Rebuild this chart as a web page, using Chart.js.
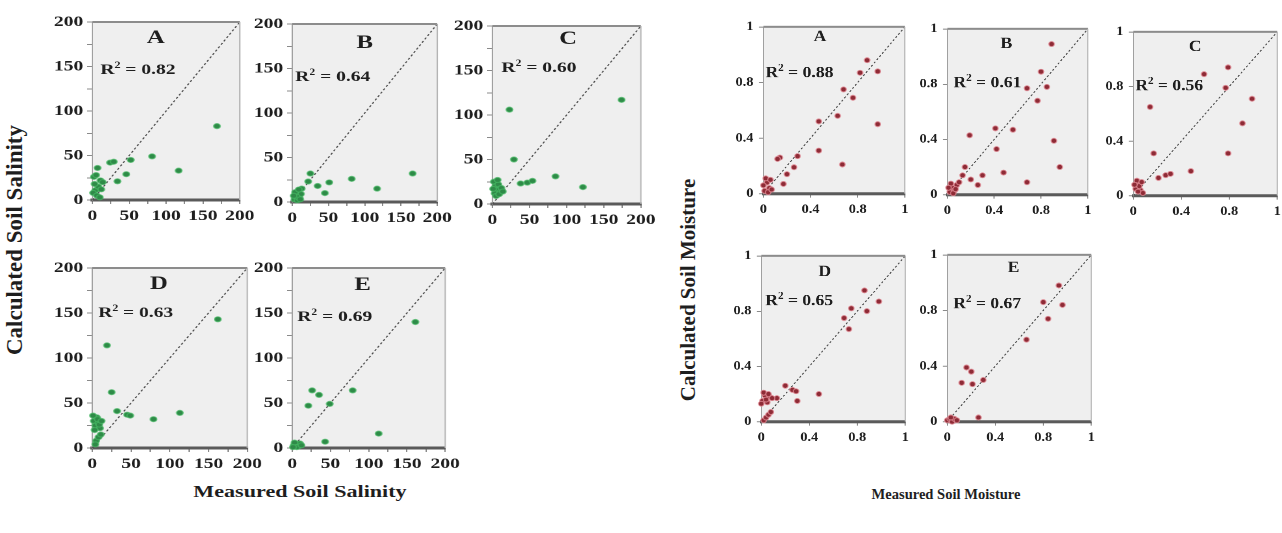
<!DOCTYPE html>
<html>
<head>
<meta charset="utf-8">
<script src="https://cdn.jsdelivr.net/npm/chart.js@4.4.1/dist/chart.umd.min.js"></script>
<style>
  body { margin: 0; background: #fff; width: 1282px; height: 533px; position: relative; overflow: hidden; font-family: 'Liberation Serif', 'Times New Roman', serif; }
  .wrap { position: absolute; transform-origin: 0 0; }
  .title { position: absolute; font-weight: bold; color: #1e1e1e; white-space: nowrap; }
</style>
</head>
<body>
<div class="title" style="left:15px; top:240px; font-size:23px; transform: translate(-50%,-50%) rotate(-90deg);">Calculated Soil Salinity</div>
<div class="title" style="left:300px; top:492px; font-size:17px; transform: translate(-50%,-50%) scaleX(1.3);">Measured Soil Salinity</div>
<div class="title" style="left:688px; top:290px; font-size:21px; transform: translate(-50%,-50%) rotate(-90deg);">Calculated Soil Moisture</div>
<div class="title" style="left:946px; top:494px; font-size:15px; transform: translate(-50%,-50%) scaleX(0.97);">Measured Soil Moisture</div>

<script>
// panel letters and fit statistics
var panelLetters = ['A', 'B', 'C', 'D', 'E'];
var salinityR2 = [0.82, 0.64, 0.60, 0.63, 0.69];
var moistureR2 = [0.88, 0.61, 0.56, 0.65, 0.67];

// axis ticks
var salinityTicks = [0, 50, 100, 150, 200];
var moistureTicks = [0, 0.4, 0.8, 1.2];
var moistureTickLabels = ['0', '0.4', '0.8', '1'];

// soil salinity: measured vs calculated
var salA_meas = [169, 81, 117, 52, 46, 34, 24, 29, 7, 11, 2, 4, 1, 8, 3, 6, 10, 12, 5, 14];
var salA_calc = [83, 49, 33, 45, 29, 21, 42, 43, 36, 22, 26, 11, 8, 15, 18, 5, 3, 12, 28, 20];
var salB_meas = [166, 117, 82, 51, 45, 35, 25, 22, 13, 8, 5, 10, 3, 7, 12, 4, 9, 6, 2, 11];
var salB_calc = [32, 15, 26, 22, 10, 18, 32, 23, 15, 12, 8, 5, 3, 2, 9, 11, 14, 6, 7, 3];
var salC_meas = [174, 23, 29, 85, 122, 38, 47, 54, 2, 4, 6, 8, 10, 3, 12, 5, 7, 1, 9, 14];
var salC_calc = [117, 106, 50, 31, 19, 23, 24, 26, 25, 20, 16, 22, 13, 12, 18, 9, 27, 17, 11, 14];
var salD_meas = [162, 19, 25, 32, 45, 49, 79, 113, 2, 4, 6, 8, 10, 3, 1, 7, 9, 12, 5, 8, 11, 4];
var salD_calc = [143, 114, 62, 41, 37, 36, 32, 39, 30, 25, 34, 28, 22, 20, 36, 32, 26, 30, 8, 12, 15, 4];
var salE_meas = [161, 79, 26, 35, 21, 49, 113, 43, 2, 5, 8, 10, 3, 6, 12, 1];
var salE_calc = [140, 64, 64, 59, 47, 49, 16, 7, 3, 4, 2, 5, 6, 1, 3, 1];

// soil moisture: measured vs calculated
var moiA_meas = [0.88, 0.97, 0.82, 0.68, 0.76, 0.63, 0.47, 0.97, 0.47, 0.67, 0.29, 0.14, 0.12, 0.26, 0.20, 0.17, 0.01, 0.03, 0.05, 0.02, 0.06, 0.04, 0.00, 0.07];
var moiA_calc = [0.96, 0.88, 0.87, 0.75, 0.69, 0.56, 0.52, 0.50, 0.31, 0.21, 0.27, 0.26, 0.25, 0.19, 0.14, 0.07, 0.02, 0.08, 0.04, 0.11, 0.10, 0.01, 0.06, 0.03];
var moiB_meas = [0.89, 0.80, 0.68, 0.85, 0.77, 0.41, 0.56, 0.19, 0.91, 0.42, 0.96, 0.48, 0.68, 0.30, 0.26, 0.20, 0.15, 0.13, 0.02, 0.04, 0.06, 0.08, 0.10, 0.03, 0.05, 0.01, 0.07];
var moiB_calc = [1.09, 0.89, 0.77, 0.78, 0.68, 0.48, 0.47, 0.43, 0.39, 0.33, 0.20, 0.16, 0.09, 0.14, 0.07, 0.11, 0.20, 0.14, 0.02, 0.05, 0.03, 0.07, 0.09, 0.08, 0.01, 0.05, 0.04];
var moiC_meas = [0.79, 0.59, 0.77, 0.99, 0.14, 0.91, 0.79, 0.17, 0.48, 0.21, 0.27, 0.31, 0.02, 0.04, 0.06, 0.03, 0.05, 0.08, 0.01, 0.07, 0.04];
var moiC_calc = [0.94, 0.89, 0.79, 0.71, 0.65, 0.53, 0.31, 0.31, 0.18, 0.13, 0.15, 0.16, 0.05, 0.09, 0.04, 0.11, 0.07, 0.02, 0.08, 0.10, 0.03];
var moiD_meas = [0.86, 0.98, 0.88, 0.75, 0.69, 0.73, 0.48, 0.20, 0.26, 0.29, 0.30, 0.13, 0.01, 0.03, 0.05, 0.07, 0.02, 0.04, 0.06, 0.09, 0.00, 0.02, 0.04, 0.06, 0.08];
var moiD_calc = [0.95, 0.87, 0.80, 0.82, 0.75, 0.67, 0.20, 0.26, 0.23, 0.22, 0.15, 0.17, 0.15, 0.19, 0.14, 0.18, 0.21, 0.16, 0.20, 0.17, 0.13, 0.01, 0.03, 0.05, 0.07];
var moiE_meas = [0.93, 0.80, 0.96, 0.84, 0.66, 0.16, 0.20, 0.12, 0.21, 0.30, 0.26, 0.00, 0.02, 0.04, 0.06, 0.08, 0.03];
var moiE_calc = [0.98, 0.86, 0.84, 0.74, 0.59, 0.39, 0.36, 0.28, 0.27, 0.30, 0.03, 0.01, 0.02, 0.00, 0.02, 0.01, 0.03];

var salMeas = [salA_meas, salB_meas, salC_meas, salD_meas, salE_meas];
var salCalc = [salA_calc, salB_calc, salC_calc, salD_calc, salE_calc];
var moiMeas = [moiA_meas, moiB_meas, moiC_meas, moiD_meas, moiE_meas];
var moiCalc = [moiA_calc, moiB_calc, moiC_calc, moiD_calc, moiE_calc];

// where each plot area sits on the page (l, t, w, h) plus label offsets
var salLayout = [
  { l: 92,  t: 22,  w: 147, h: 178, lx: 0.43, ly: 16, rx: 8, ry: 48 },
  { l: 292, t: 24,  w: 145, h: 178, lx: 0.50, ly: 19, rx: 3, ry: 53 },
  { l: 492, t: 26,  w: 148, h: 178, lx: 0.51, ly: 13, rx: 9, ry: 42 },
  { l: 92,  t: 268, w: 155, h: 180, lx: 0.43, ly: 16, rx: 6, ry: 45 },
  { l: 292, t: 268, w: 153, h: 180, lx: 0.46, ly: 17, rx: 5, ry: 49 }
];
var moiLayout = [
  { l: 763,  t: 27,  w: 141, h: 166, lx: 0.40, ly: 10, rx: 2, ry: 46 },
  { l: 947,  t: 29,  w: 140, h: 165, lx: 0.42, ly: 15, rx: 6, ry: 54 },
  { l: 1133, t: 32,  w: 144, h: 163, lx: 0.43, ly: 15, rx: 2, ry: 54 },
  { l: 761,  t: 256, w: 144, h: 165, lx: 0.44, ly: 16, rx: 4, ry: 45 },
  { l: 947,  t: 255, w: 144, h: 166, lx: 0.46, ly: 13, rx: 6, ry: 49 }
];

var SERIF = "'Liberation Serif', 'Times New Roman', serif";

// grey plot background, top/right frame, panel letter and R² text
var plotFrame = {
  id: 'plotFrame',
  beforeDraw: function(chart) {
    var a = chart.chartArea, ctx = chart.ctx;
    ctx.save();
    ctx.fillStyle = '#efefef';
    ctx.fillRect(a.left, a.top, a.right - a.left, a.bottom - a.top);
    ctx.restore();
  },
  afterDraw: function(chart) {
    var a = chart.chartArea, ctx = chart.ctx;
    var o = chart.options.plugins.plotFrame;
    ctx.save();
    ctx.strokeStyle = '#8c8c8c';
    ctx.lineWidth = 2;
    ctx.beginPath();
    ctx.moveTo(a.left, a.top);
    ctx.lineTo(a.right, a.top);
    ctx.stroke();
    ctx.strokeStyle = '#b4b4b4';
    ctx.lineWidth = 1;
    ctx.beginPath();
    ctx.moveTo(a.right, a.top);
    ctx.lineTo(a.right, a.bottom);
    ctx.stroke();

    ctx.fillStyle = '#1e1e1e';
    ctx.textBaseline = 'middle';
    ctx.textAlign = 'center';
    ctx.font = 'bold ' + o.letterSize + 'px ' + SERIF;
    ctx.fillText(o.letter, a.left + o.lx * (a.right - a.left), a.top + o.ly);

    ctx.textAlign = 'left';
    var x = a.left + o.rx / o.sx, y = a.top + o.ry;
    ctx.font = 'bold ' + o.r2Size + 'px ' + SERIF;
    ctx.fillText('R', x, y);
    x += ctx.measureText('R').width;
    ctx.font = 'bold ' + Math.round(o.r2Size * 0.6) + 'px ' + SERIF;
    ctx.fillText('2', x, y - o.r2Size * 0.3);
    x += ctx.measureText('2').width;
    ctx.font = 'bold ' + o.r2Size + 'px ' + SERIF;
    ctx.fillText(' = ' + o.r2.toFixed(2), x, y);
    ctx.restore();
  }
};

function makePanel(cfg) {
  var p = cfg.box;
  var wrap = document.createElement('div');
  wrap.className = 'wrap';
  wrap.style.transform = 'scaleX(' + cfg.sx + ')';
  var canvas = document.createElement('canvas');
  canvas.width = Math.round(p.w / cfg.sx) + 60;
  canvas.height = p.h + 40;
  wrap.appendChild(canvas);
  document.body.appendChild(wrap);

  var pts = cfg.meas.map(function(v, i) { return { x: v, y: cfg.calc[i] }; });
  var top = cfg.max;
  var tickFont = { family: SERIF, size: cfg.tickSize, weight: 'bold' };

  function axis(pos, borderColor, borderWidth, pad) {
    return {
      type: 'linear',
      position: pos,
      min: 0,
      max: top,
      grid: { display: true, drawOnChartArea: false, tickLength: 4, color: '#8a8a8a' },
      border: { color: borderColor, width: borderWidth },
      ticks: {
        stepSize: cfg.step,
        autoSkip: false,
        maxRotation: 0,
        padding: pad,
        color: '#1e1e1e',
        font: tickFont,
        callback: cfg.label
      }
    };
  }

  var chart = new Chart(canvas, {
    type: 'scatter',
    data: {
      datasets: [
        {
          data: [{ x: 0, y: 0 }, { x: top, y: top }],
          showLine: true,
          borderColor: '#4a4a4a',
          borderWidth: 1,
          borderDash: [2, 2],
          pointRadius: 0,
          order: 2
        },
        {
          data: pts,
          backgroundColor: cfg.fill,
          borderColor: cfg.edge,
          borderWidth: 1.2,
          pointRadius: 2.5,
          clip: false,
          order: 1
        }
      ]
    },
    options: {
      responsive: false,
      maintainAspectRatio: false,
      animation: false,
      devicePixelRatio: 2,
      layout: { padding: { top: 4, right: 4 } },
      plugins: {
        legend: { display: false },
        tooltip: { enabled: false },
        plotFrame: {
          letter: cfg.letter, r2: cfg.r2, sx: cfg.sx,
          lx: p.lx, ly: p.ly, rx: p.rx, ry: p.ry,
          letterSize: cfg.letterSize, r2Size: cfg.r2Size
        }
      },
      scales: {
        x: axis('bottom', '#5a5a5a', 3, cfg.xPad),
        y: axis('left', '#a0a0a0', 1, cfg.yPad)
      }
    },
    plugins: [plotFrame]
  });

  // size the plot area exactly, then move the wrapper onto it
  var a = chart.chartArea;
  chart.resize(chart.width + p.w / cfg.sx - (a.right - a.left),
               chart.height + p.h - (a.bottom - a.top));
  a = chart.chartArea;
  wrap.style.left = (p.l - a.left * cfg.sx) + 'px';
  wrap.style.top = (p.t - a.top) + 'px';
}

var salMax = salinityTicks[salinityTicks.length - 1];
var moiMax = moistureTicks[moistureTicks.length - 1];

for (var i = 0; i < 5; i++) {
  makePanel({
    box: salLayout[i], sx: 1.3,
    meas: salMeas[i], calc: salCalc[i],
    max: salMax, step: 25,
    label: function(v) { return salinityTicks.indexOf(v) >= 0 ? String(v) : ''; },
    tickSize: 15, xPad: 3, yPad: 3,
    letter: panelLetters[i], r2: salinityR2[i], letterSize: 19, r2Size: 15,
    fill: '#2f8a48', edge: 'rgba(70,185,100,0.65)'
  });
  makePanel({
    box: moiLayout[i], sx: 1.1,
    meas: moiMeas[i], calc: moiCalc[i],
    max: moiMax, step: moistureTicks[1],
    label: function(v) {
      for (var k = 0; k < moistureTicks.length; k++) {
        if (Math.abs(moistureTicks[k] - v) < 1e-6) return moistureTickLabels[k];
      }
      return '';
    },
    tickSize: 13, xPad: 4, yPad: 5,
    letter: panelLetters[i], r2: moistureR2[i], letterSize: 16, r2Size: 16,
    fill: '#8e2b36', edge: 'rgba(225,140,150,0.7)'
  });
}
</script>
</body>
</html>
